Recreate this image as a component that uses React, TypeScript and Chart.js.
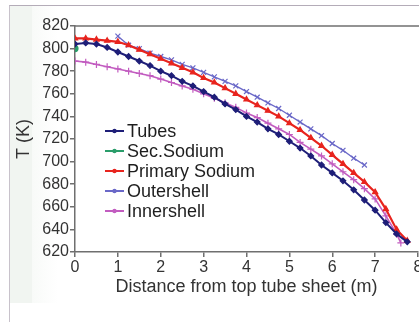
import React, { useEffect, useRef } from "react";
import { Chart, registerables } from "chart.js";

Chart.register(...registerables);

const tubesX = [0, 0.25, 0.5, 0.75, 1, 1.25, 1.5, 1.75, 2, 2.25, 2.5, 2.75, 3, 3.25, 3.5, 3.75, 4, 4.25, 4.5, 4.75, 5, 5.25, 5.5, 5.75, 6, 6.25, 6.5, 6.75, 7, 7.25, 7.5, 7.75];
const tubesT = [804, 805, 804, 801, 797, 793, 789, 785, 780, 776, 771, 767, 762, 757, 751, 746, 740, 735, 729, 724, 718, 712, 705, 697, 690, 683, 675, 666, 657, 646, 636, 629];

const secSodiumX = [0];
const secSodiumT = [800];

const primaryX = [0, 0.25, 0.5, 0.75, 1, 1.25, 1.5, 1.75, 2, 2.25, 2.5, 2.75, 3, 3.25, 3.5, 3.75, 4, 4.25, 4.5, 4.75, 5, 5.25, 5.5, 5.75, 6, 6.25, 6.5, 6.75, 7, 7.25, 7.5, 7.75];
const primaryT = [809, 809, 808, 807, 806, 803, 799, 795, 791, 787, 783, 779, 774, 770, 765, 760, 755, 750, 745, 740, 734, 728, 721, 714, 706, 698, 690, 682, 673, 658, 640, 630];

const outerX = [1, 1.25, 1.5, 1.75, 2, 2.25, 2.5, 2.75, 3, 3.25, 3.5, 3.75, 4, 4.25, 4.5, 4.75, 5, 5.25, 5.5, 5.75, 6, 6.25, 6.5, 6.75];
const outerT = [811, 803, 800, 796, 793, 790, 786, 783, 779, 775, 771, 767, 762, 757, 752, 747, 741, 735, 729, 723, 716, 710, 703, 697];

const innerX = [0, 0.25, 0.5, 0.75, 1, 1.25, 1.5, 1.75, 2, 2.25, 2.5, 2.75, 3, 3.25, 3.5, 3.75, 4, 4.25, 4.5, 4.75, 5, 5.25, 5.5, 5.75, 6, 6.25, 6.5, 6.75, 7, 7.25, 7.5, 7.6];
const innerT = [789, 788, 786, 784, 782, 780, 778, 776, 773, 770, 767, 764, 760, 756, 752, 748, 743, 739, 734, 729, 724, 717, 711, 705, 698, 691, 684, 676, 667, 652, 636, 628];

const seriesNames = ["Tubes", "Sec.Sodium", "Primary Sodium", "Outershell", "Innershell"];
const seriesColors = ["#1e1e78", "#2a9d6a", "#e8241e", "#6a68c8", "#c25cc0"];
const seriesMarkers = ["rectRot", "circle", "triangle", "crossRot", "cross"];

const xTicks = [0, 1, 2, 3, 4, 5, 6, 7, 8];
const yTicks = [620, 640, 660, 680, 700, 720, 740, 760, 780, 800, 820];

const FONT = "'Liberation Sans', Arial, Helvetica, sans-serif";

const toPts = (xs: number[], ys: number[]) => xs.map((x, i) => ({ x, y: ys[i] }));

const legendPlugin = {
  id: "insideLegend",
  afterDraw(chart: any) {
    const ctx = chart.ctx;
    const ca = chart.chartArea;
    ctx.save();
    ctx.strokeStyle = "#6f6f6f";
    ctx.lineWidth = 1.5;
    ctx.beginPath();
    ctx.moveTo(ca.left, ca.top);
    ctx.lineTo(chart.width, ca.top);
    ctx.stroke();
    const x0 = ca.left + 30;
    const y0 = ca.top + 105;
    seriesNames.forEach((name, i) => {
      const y = y0 + i * 20;
      ctx.strokeStyle = seriesColors[i];
      ctx.lineWidth = 2;
      ctx.beginPath();
      ctx.moveTo(x0, y);
      ctx.lineTo(x0 + 19, y);
      ctx.stroke();
      ctx.fillStyle = seriesColors[i];
      ctx.beginPath();
      ctx.arc(x0 + 9.5, y, 2.2, 0, Math.PI * 2);
      ctx.fill();
      ctx.fillStyle = "#1e1e1e";
      ctx.font = `18px ${FONT}`;
      ctx.textBaseline = "middle";
      ctx.textAlign = "left";
      ctx.fillText(name, x0 + 22, y + 1);
    });
    ctx.restore();
  },
};

export default function App() {
  const ref = useRef<HTMLCanvasElement | null>(null);
  useEffect(() => {
    document.body.style.overflow = "hidden";
    document.documentElement.style.overflow = "hidden";
    const sets = [
      { xs: tubesX, ys: tubesT, r: 2.8, w: 2 },
      { xs: secSodiumX, ys: secSodiumT, r: 3, w: 2 },
      { xs: primaryX, ys: primaryT, r: 3, w: 2.2 },
      { xs: outerX, ys: outerT, r: 3.5, w: 1.4 },
      { xs: innerX, ys: innerT, r: 3.5, w: 1.6 },
    ];
    const chart = new Chart(ref.current as HTMLCanvasElement, {
      type: "line",
      data: {
        datasets: sets.map((s, i) => ({
          label: seriesNames[i],
          data: toPts(s.xs, s.ys),
          borderColor: seriesColors[i],
          backgroundColor: seriesColors[i],
          borderWidth: s.w,
          pointStyle: seriesMarkers[i] as any,
          pointRadius: s.r,
          pointBorderWidth: 1.2,
          tension: 0,
        })),
      },
      options: {
        animation: false,
        responsive: false,
        devicePixelRatio: 1,
        layout: { padding: { top: 26, right: 12, left: 0, bottom: 0 } },
        plugins: { legend: { display: false }, tooltip: { enabled: false } },
        scales: {
          x: {
            type: "linear",
            min: 0,
            max: 8,
            afterBuildTicks: (scale: any) => {
              scale.ticks = xTicks.map((v) => ({ value: v }));
            },
            ticks: { color: "#333", font: { family: FONT, size: 16 }, padding: 1, maxRotation: 0 },
            grid: { drawOnChartArea: false, tickLength: 5, color: "#6f6f6f", lineWidth: 1.5 },
            border: { color: "#6f6f6f", width: 1.5 },
            title: {
              display: true,
              text: "Distance from top tube sheet (m)",
              color: "#333",
              font: { family: FONT, size: 18 },
              padding: { top: 0, bottom: 24 },
            },
            afterFit: (scale: any) => {
              scale.height = 70;
            },
          },
          y: {
            type: "linear",
            min: 620,
            max: 820,
            afterBuildTicks: (scale: any) => {
              scale.ticks = yTicks.map((v) => ({ value: v }));
            },
            ticks: { color: "#333", font: { family: FONT, size: 16 }, padding: 1 },
            grid: { drawOnChartArea: false, tickLength: 5, color: "#6f6f6f", lineWidth: 1.5 },
            border: { color: "#6f6f6f", width: 1.5 },
            title: {
              display: true,
              text: "T (K)",
              color: "#333",
              font: { family: FONT, size: 18 },
              padding: { top: 13, bottom: 0 },
            },
            afterFit: (scale: any) => {
              scale.width = 75;
            },
          },
        },
      },
      plugins: [legendPlugin],
    });
    return () => chart.destroy();
  }, []);

  return (
    <div style={{ position: "fixed", left: 0, top: 0, width: 419, height: 322, overflow: "hidden", background: "#fff" }}>
      <div
        style={{
          position: "absolute",
          left: 9,
          top: 5,
          width: 420,
          height: 320,
          borderLeft: "1px solid #c8c2cb",
          borderTop: "1.5px solid #b4acb8",
        }}
      />
      <div style={{ position: "absolute", left: 10, top: 6, width: 22, height: 297, background: "#f1f5f1" }} />
      <div style={{ position: "absolute", left: 10, top: 6, width: 400, height: 297, background: "linear-gradient(to right, rgba(241,245,241,0.9), rgba(255,255,255,0) 12%)" }} />
      <canvas ref={ref} width={430} height={322} style={{ position: "absolute", left: 0, top: 0, width: 430, height: 322 }} />
    </div>
  );
}
